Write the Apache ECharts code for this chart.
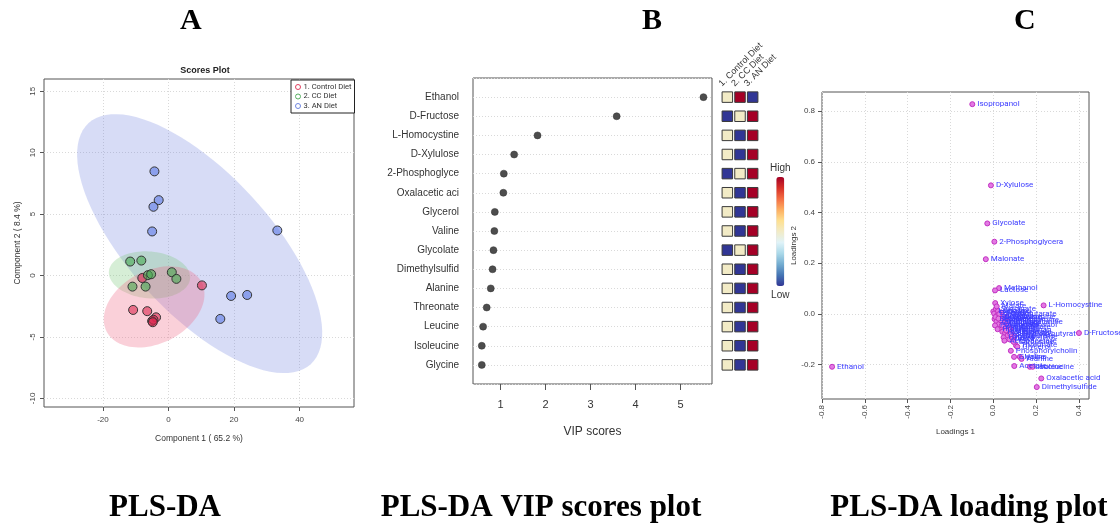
<!DOCTYPE html>
<html>
<head>
<meta charset="utf-8">
<title>PLS-DA</title>
<script src="https://cdn.jsdelivr.net/npm/echarts@6/dist/echarts.min.js"></script>
<style>
  html, body { margin: 0; padding: 0; background: #fff; }
  #chart { width: 1120px; height: 526px; }
</style>
</head>
<body>
<div id="chart"></div>
<script>
// ---- A: PLS-DA scores (component 1, component 2) ----
const groupNames = ['1. Control Diet', '2. CC Diet', '3. AN Diet'];
const controlScores = [[-8.0, -0.2], [10.2, -0.8], [-10.8, -2.8], [-6.5, -2.9], [-3.8, -3.4], [-5.0, -3.7], [-4.6, -3.6], [-4.8, -3.8]];
const ccScores = [[-11.7, 1.14], [-8.3, 1.22], [-6.3, 0.03], [-5.3, 0.11], [1.0, 0.27], [2.4, -0.27], [-11.0, -0.9], [-7.0, -0.9]];
const anScores = [[-4.3, 8.48], [-3.0, 6.14], [-4.6, 5.6], [-5.0, 3.59], [33.2, 3.67], [19.1, -1.66], [24.0, -1.58], [15.8, -3.53]];
// confidence ellipses: centre x, centre y, semi-axis 1 (dx, dy), semi-axis 2 (dx, dy)
const controlEllipse = [-4.4, -2.55, 14.5, 2.0, 5.1, -2.63];
const ccEllipse = [-5.8, 0.05, 12.4, -0.29, -0.62, -1.9];
const anEllipse = [9.5, 2.6, 33.9, -9.81, -15.8, -3.86];
const scoreXTicks = [-20, 0, 20, 40];
const scoreYTicks = [-10, -5, 0, 5, 10, 15];

// ---- B: VIP scores ----
const vipNames = ['Ethanol', 'D-Fructose', 'L-Homocystine', 'D-Xylulose', '2-Phosphoglyce', 'Oxalacetic aci', 'Glycerol', 'Valine', 'Glycolate', 'Dimethylsulfid', 'Alanine', 'Threonate', 'Leucine', 'Isoleucine', 'Glycine'];
const vipScores = [5.51, 3.58, 1.82, 1.30, 1.07, 1.06, 0.87, 0.86, 0.84, 0.82, 0.78, 0.69, 0.61, 0.58, 0.58];
// relative concentration per group: 1 low, 2 middle, 3 high
const controlLevel = [2, 1, 2, 2, 1, 2, 2, 2, 1, 2, 2, 2, 2, 2, 2];
const ccLevel = [3, 2, 1, 1, 2, 1, 1, 1, 2, 1, 1, 1, 1, 1, 1];
const anLevel = [1, 3, 3, 3, 3, 3, 3, 3, 3, 3, 3, 3, 3, 3, 3];
const vipTicks = [1, 2, 3, 4, 5];

// ---- C: loadings ----
const loadingNames = ['Isopropanol', 'D-Xylulose', 'Glycolate', '2-Phosphoglycera', 'Malonate', 'Methanol', 'Lactose', 'Xylose',
  'L-Homocystine', 'D-Fructose', 'Ethanol', 'Oxalacetic acid', 'Dimethylsulfide', 'Phosphorylcholin', 'Acetate', 'Threonate',
  'Glycine', 'Valine', 'Alanine', 'Leucine', 'Isoleucine', 'Glycerol',
  'Lactate', 'Formate', 'Succinate', 'Citrate', 'Betaine', 'Choline', 'Creatine', 'Creatinine', 'Taurine', 'Glutamate',
  'Glutamine', 'Pyruvate', 'Isobutyrate', 'Propionate', 'Fumarate', 'Tyrosine', 'Phenylalanine', 'Histidine', 'Methionine',
  'Lysine', 'Proline', 'Serine', 'Aspartate', 'Hypoxanthine', 'Uracil', 'Urea', 'Trimethylamine', 'Dimethylamine',
  '3-Hydroxybutyrat', '2-Oxoglutarate', 'Tryptophan', 'Allantoin', 'Sarcosine', 'myo-Inositol', 'Hippurate', 'Acetoacetate',
  'Malate', 'Glucose'];
const loading1 = [-0.098, -0.011, -0.028, 0.005, -0.035, 0.027, 0.008, 0.009,
  0.235, 0.400, -0.753, 0.224, 0.203, 0.082, 0.098, 0.106,
  0.097, 0.124, 0.132, 0.171, 0.184, 0.112,
  0.000, 0.004, 0.012, 0.018, 0.006, 0.022, 0.030, 0.015, 0.038, 0.045,
  0.026, 0.050, 0.058, 0.008, 0.034, 0.062, 0.070, 0.042, 0.055,
  0.078, 0.020, 0.066, 0.085, 0.048, 0.075, 0.090, 0.010, 0.035,
  0.080, 0.028, 0.060, 0.040, 0.095, 0.070, 0.100, 0.052,
  0.016, 0.024];
const loading2 = [0.827, 0.507, 0.357, 0.285, 0.216, 0.102, 0.093, 0.043,
  0.034, -0.075, -0.208, -0.254, -0.288, -0.145, -0.205, -0.124,
  -0.169, -0.169, -0.177, -0.208, -0.208, -0.129,
  0.010, 0.002, 0.020, -0.005, -0.020, 0.012, -0.012, -0.030, 0.005, -0.020,
  -0.040, -0.035, -0.050, -0.045, -0.058, -0.010, -0.030, -0.070, -0.075,
  -0.055, -0.060, -0.085, -0.070, -0.092, -0.100, -0.095, -0.012, -0.025,
  -0.080, 0.000, -0.065, -0.045, -0.110, -0.045, -0.088, -0.105,
  0.030, -0.018];
const loadXTicks = [-0.8, -0.6, -0.4, -0.2, 0.0, 0.2, 0.4];
const loadYTicks = [-0.2, 0.0, 0.2, 0.4, 0.6, 0.8];

const sans = "'Liberation Sans', Arial, sans-serif";
const narrow = "Roboto, 'Liberation Sans', sans-serif";
const serif = "'Liberation Serif', 'DejaVu Serif', serif";
const dotted = { color: '#d9d9d9', type: [1, 2], width: 1 };

function ellipseSeries(name, params, fill) {
  return {
    name: name, type: 'custom', xAxisIndex: 0, yAxisIndex: 0, silent: true, z: 1,
    data: [params],
    renderItem: function (p, api) {
      const pts = [];
      for (let k = 0; k < 96; k++) {
        const t = k / 96 * Math.PI * 2;
        const x = api.value(0) + Math.cos(t) * api.value(2) + Math.sin(t) * api.value(4);
        const y = api.value(1) + Math.cos(t) * api.value(3) + Math.sin(t) * api.value(5);
        pts.push(api.coord([x, y]));
      }
      return { type: 'polygon', shape: { points: pts }, style: { fill: fill } };
    }
  };
}

function scoreSeries(name, data, fill) {
  return {
    name: name, type: 'scatter', xAxisIndex: 0, yAxisIndex: 0, z: 3,
    data: data, symbolSize: 9,
    itemStyle: { color: fill, borderColor: '#333', borderWidth: 1, opacity: 1 }
  };
}

const squares = [];
vipNames.forEach((n, i) => {
  squares.push([0, 15 - i, controlLevel[i]]);
  squares.push([1, 15 - i, ccLevel[i]]);
  squares.push([2, 15 - i, anLevel[i]]);
});

const chart = echarts.init(document.getElementById('chart'), null, { renderer: 'canvas' });
chart.setOption({
  animation: false,
  textStyle: { fontFamily: sans },
  title: [{
    text: 'Scores Plot', left: 200, top: 61, textAlign: 'center',
    textStyle: { fontSize: 9, fontWeight: 'bold', color: '#222', fontFamily: sans }
  }],
  legend: {
    orient: 'vertical', left: 291, top: 80, itemGap: 1.5, itemWidth: 5, itemHeight: 5,
    padding: [3, 3, 3, 4], borderColor: '#222', borderWidth: 1, backgroundColor: '#fff',
    textStyle: { fontSize: 7.6, color: '#333', fontFamily: narrow, padding: [0, 0, 0, -2] },
    data: [
      { name: groupNames[0], icon: 'circle', itemStyle: { color: '#fff', borderColor: '#e0405f', borderWidth: 1 } },
      { name: groupNames[1], icon: 'circle', itemStyle: { color: '#fff', borderColor: '#56b061', borderWidth: 1 } },
      { name: groupNames[2], icon: 'circle', itemStyle: { color: '#fff', borderColor: '#6f86e0', borderWidth: 1 } }
    ]
  },
  visualMap: {
    type: 'continuous', min: 1, max: 3, dimension: 2, seriesIndex: 6,
    calculable: false, left: 755, top: 148, itemWidth: 8, itemHeight: 109,
    text: ['High', 'Low'], textGap: 4,
    textStyle: { fontSize: 10, color: '#333', fontFamily: sans },
    inRange: { color: ['#313695', '#4575b4', '#74add1', '#abd9e9', '#e0f3f8', '#f2ebc6', '#fee090', '#fdae61', '#f46d43', '#d73027', '#a50026'] }
  },
  grid: [
    { left: 44, top: 79, width: 310, height: 328, show: true, borderColor: '#555', borderWidth: 1 },
    { left: 473, top: 78, width: 239, height: 306, show: true, borderColor: '#555', borderWidth: 1 },
    { left: 721, top: 88, width: 38, height: 296 },
    { left: 714, top: 86, width: 38, height: 1 },
    { left: 822, top: 92, width: 267, height: 307, show: true, borderColor: '#555', borderWidth: 1 }
  ],
  xAxis: [
    {
      gridIndex: 0, type: 'value', min: -38, max: 56.6,
      name: 'Component 1 ( 65.2 %)', nameLocation: 'middle', nameGap: 27,
      nameTextStyle: { fontSize: 8.5, color: '#333' },
      axisLine: { show: false, onZero: false },
      axisTick: { show: true, length: 4, lineStyle: { color: '#555' }, customValues: scoreXTicks },
      axisLabel: { fontSize: 8, color: '#444', margin: 9, customValues: scoreXTicks },
      splitLine: { show: true, lineStyle: dotted }
    },
    {
      gridIndex: 1, type: 'value', min: 0.385, max: 5.7,
      name: 'VIP scores', nameLocation: 'middle', nameGap: 42,
      nameTextStyle: { fontSize: 12, color: '#333' },
      axisLine: { show: false, onZero: false },
      axisTick: { show: true, length: 6, lineStyle: { color: '#555' }, customValues: vipTicks },
      axisLabel: { fontSize: 11, color: '#333', margin: 15, customValues: vipTicks },
      splitLine: { show: false }
    },
    {
      gridIndex: 2, type: 'category', data: groupNames, show: false
    },
    {
      gridIndex: 3, type: 'category', data: groupNames, position: 'top',
      axisLine: { show: false }, axisTick: { show: false },
      axisLabel: { rotate: 45, margin: 1, fontSize: 9, color: '#333', interval: 0 },
      splitLine: { show: false }
    },
    {
      gridIndex: 4, type: 'value', min: -0.8, max: 0.447,
      name: 'Loadings 1', nameLocation: 'middle', nameGap: 29,
      nameTextStyle: { fontSize: 8, color: '#333' },
      axisLine: { show: false, onZero: false },
      axisTick: { show: true, length: 4, lineStyle: { color: '#555' }, customValues: loadXTicks },
      axisLabel: { rotate: 90, fontSize: 8, color: '#444', margin: 6, customValues: loadXTicks,
        formatter: v => v.toFixed(1) },
      splitLine: { show: true, lineStyle: dotted }
    }
  ],
  yAxis: [
    {
      gridIndex: 0, type: 'value', min: -10.7, max: 16.0,
      name: 'Component 2 ( 8.4 %)', nameLocation: 'middle', nameGap: 22,
      nameTextStyle: { fontSize: 8.5, color: '#333' },
      axisLine: { show: false, onZero: false },
      axisTick: { show: true, length: 4, lineStyle: { color: '#555' }, customValues: scoreYTicks },
      axisLabel: { rotate: 90, fontSize: 8, color: '#444', margin: 7, customValues: scoreYTicks },
      splitLine: { show: true, lineStyle: dotted }
    },
    {
      gridIndex: 1, type: 'value', min: 0, max: 16, interval: 1,
      axisLine: { show: false, onZero: false }, axisTick: { show: false },
      axisLabel: { fontSize: 10, color: '#333', margin: 14,
        formatter: v => (v >= 1 && v <= 15) ? vipNames[15 - v] : '' },
      splitLine: { show: true, lineStyle: dotted }
    },
    { gridIndex: 2, type: 'value', min: 0, max: 15.477, show: false },
    { gridIndex: 3, type: 'value', show: false },
    {
      gridIndex: 4, type: 'value', min: -0.335, max: 0.875,
      name: 'Loadings 2', nameLocation: 'middle', nameGap: 19,
      nameTextStyle: { fontSize: 8, color: '#333' },
      axisLine: { show: false, onZero: false },
      axisTick: { show: true, length: 4, lineStyle: { color: '#555' }, customValues: loadYTicks },
      axisLabel: { fontSize: 8, color: '#444', margin: 7, customValues: loadYTicks,
        formatter: v => v.toFixed(1) },
      splitLine: { show: true, lineStyle: dotted }
    }
  ],
  series: [
    ellipseSeries('anEllipse', anEllipse, 'rgba(100,120,220,0.26)'),
    ellipseSeries('ccEllipse', ccEllipse, 'rgba(120,200,120,0.3)'),
    ellipseSeries('controlEllipse', controlEllipse, 'rgba(240,100,130,0.3)'),
    scoreSeries(groupNames[0], controlScores, 'rgba(220,40,80,0.6)'),
    scoreSeries(groupNames[1], ccScores, 'rgba(70,170,80,0.6)'),
    scoreSeries(groupNames[2], anScores, 'rgba(90,120,230,0.6)'),
    {
      name: 'levels', type: 'scatter', xAxisIndex: 2, yAxisIndex: 2,
      data: squares, symbol: 'rect', symbolSize: 10.5,
      itemStyle: { borderColor: '#3a3a3a', borderWidth: 1, opacity: 1 }
    },
    {
      name: 'VIP', type: 'scatter', xAxisIndex: 1, yAxisIndex: 1,
      data: vipScores.map((v, i) => [v, 15 - i]), symbolSize: 7,
      itemStyle: { color: '#4d4d4d', borderColor: '#333', borderWidth: 0.5, opacity: 1 }
    },
    {
      name: 'loadings', type: 'scatter', xAxisIndex: 4, yAxisIndex: 4,
      data: loadingNames.map((n, i) => ({ name: n, value: [loading1[i], loading2[i]] })),
      symbolSize: 5,
      itemStyle: { color: '#e27ae2', borderColor: '#c22fc2', borderWidth: 1, opacity: 1 },
      label: { show: true, position: 'right', distance: 2, formatter: '{b}', fontSize: 8, color: '#3b3bff', fontFamily: narrow }
    }
  ],
  graphic: [
    { type: 'text', left: 180, top: 6, style: { text: 'A', font: 'bold 30px ' + serif, fill: '#000' } },
    { type: 'text', left: 642, top: 6, style: { text: 'B', font: 'bold 30px ' + serif, fill: '#000' } },
    { type: 'text', left: 1014, top: 6, style: { text: 'C', font: 'bold 30px ' + serif, fill: '#000' } },
    { type: 'text', x: 165, y: 508, style: { text: 'PLS-DA', font: 'bold 31px ' + serif, fill: '#000', textAlign: 'center', textVerticalAlign: 'middle' } },
    { type: 'text', x: 541, y: 508, style: { text: 'PLS-DA VIP scores plot', font: 'bold 31px ' + serif, fill: '#000', textAlign: 'center', textVerticalAlign: 'middle' } },
    { type: 'text', x: 969, y: 508, style: { text: 'PLS-DA loading plot', font: 'bold 31px ' + serif, fill: '#000', textAlign: 'center', textVerticalAlign: 'middle' } }
  ]
});
</script>
</body>
</html>
